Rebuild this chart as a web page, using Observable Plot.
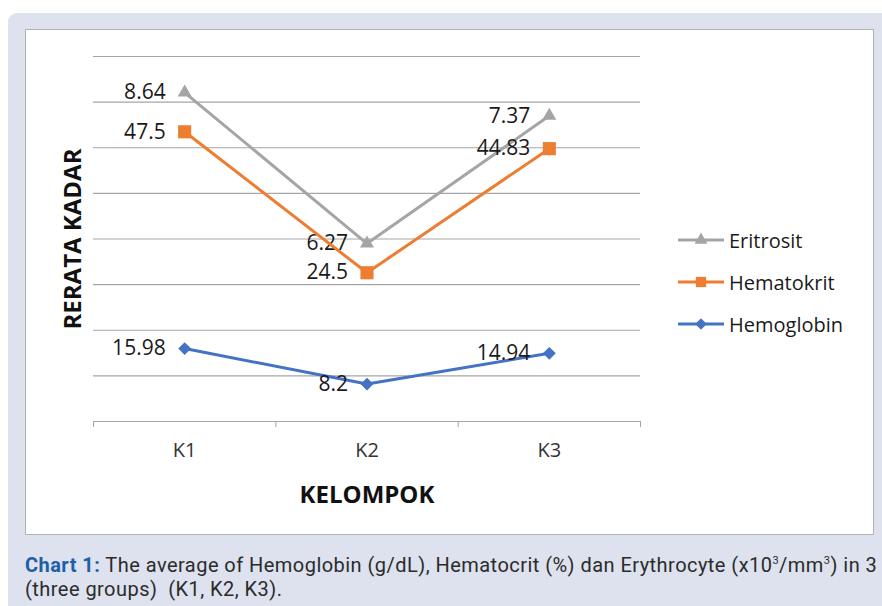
<!DOCTYPE html>
<html>
<head>
<meta charset="utf-8">
<script src="https://cdn.jsdelivr.net/npm/d3@7"></script>
<script src="https://cdn.jsdelivr.net/npm/@observablehq/plot@0.6"></script>
<style>
  html, body { margin: 0; padding: 0; background: #ffffff; }
  #page { position: relative; width: 882px; height: 606px; overflow: hidden; }
  #bg { position: absolute; left: 8px; top: 13px; width: 890px; height: 610px; background: #dde2ee; border-radius: 9px; }
  #panel { position: absolute; left: 25px; top: 29px; width: 847px; height: 504px; background: #fff; border: 1px solid #b3b3b3; }
  #panel > svg { position: absolute; left: 0; top: 0; }
  #legend { position: absolute; left: 651px; top: 198px; font-family: "Open Sans", sans-serif; font-size: 20px; color: #1a1a1a; }
  #legend .lrow { position: absolute; left: 0; white-space: nowrap; display: flex; align-items: center; height: 24px; }
  #legend .lrow svg { position: static; margin-right: 4px; display: block; }
  #caption { position: absolute; left: 25px; top: 549px; font-family: "Roboto", sans-serif; font-size: 20px; letter-spacing: 0.46px; line-height: 24px; color: #2b2b2b; white-space: nowrap; }
  #caption b { color: #1f5fa6; }
</style>
</head>
<body>
<div id="page">
  <div id="bg"></div>
  <div id="panel"><div id="legend"></div></div>
  <div id="caption"><b>Chart 1:</b> The average of Hemoglobin (g/dL), Hematocrit (%) dan Erythrocyte (x10<sup style="font-size:11px">3</sup>/mm<sup style="font-size:11px">3</sup>) in 3<br>(three groups)&nbsp; (K1, K2, K3).</div>
</div>
<script>
// ---- data (plotted positions, in gridline units of 10) ----
const categories = ["K1", "K2", "K3"];
const seriesNames = ["Eritrosit", "Hematokrit", "Hemoglobin"];
const eritrositValues = [72.1, 39.0, 67.0];
const eritrositLabels = ["8.64", "6.27", "7.37"];
const hematokritValues = [63.5, 32.6, 59.8];
const hematokritLabels = ["47.5", "24.5", "44.83"];
const hemoglobinValues = [15.98, 8.2, 14.94];
const hemoglobinLabels = ["15.98", "8.2", "14.94"];
const gridTicks = [0, 10, 20, 30, 40, 50, 60, 70, 80];

const colors = {Eritrosit: "#a5a5a5", Hematokrit: "#ed7d31", Hemoglobin: "#4472c4"};
const symbols = {Eritrosit: "triangle", Hematokrit: "square", Hemoglobin: "diamond2"};
const radii = {Eritrosit: 5.2, Hematokrit: 7.4, Hemoglobin: 5.8};

const valueSets = [eritrositValues, hematokritValues, hemoglobinValues];
const labelSets = [eritrositLabels, hematokritLabels, hemoglobinLabels];
const rows = [];
seriesNames.forEach((s, si) => {
  categories.forEach((c, ci) => {
    rows.push({series: s, idx: ci + 0.5, cat: c, value: valueSets[si][ci], label: labelSets[si][ci]});
  });
});

const font = "Open Sans, sans-serif";
const marks = [
  Plot.ruleY(gridTicks, {stroke: "#a6a6a6", strokeWidth: 1.2, strokeOpacity: 1}),
  Plot.axisX({ticks: [0, 1, 2, 3], tickFormat: () => "", tickSize: 6, stroke: "#a6a6a6", label: null}),
  Plot.axisX({ticks: categories.map((c, i) => i + 0.5), tickFormat: (d) => categories[Math.floor(d)], tickSize: 0, tickPadding: 21, fontSize: 20, fill: "#333", label: null, fontFamily: font}),
  Plot.text(["KELOMPOK"], {frameAnchor: "bottom", textAnchor: "middle", dy: 81, fontSize: 24, fontWeight: "bold", fill: "#111", fontFamily: font}),
  Plot.text(["RERATA KADAR"], {frameAnchor: "left", textAnchor: "middle", rotate: -90, dx: -20, fontSize: 24, fontWeight: "bold", fill: "#111", fontFamily: font})
];
for (const s of seriesNames) {
  const d = rows.filter(r => r.series === s);
  marks.push(Plot.line(d, {x: "idx", y: "value", stroke: colors[s], strokeWidth: 3}));
  marks.push(Plot.dot(d, {x: "idx", y: "value", symbol: symbols[s], r: radii[s], fill: colors[s], stroke: "none"}));
  marks.push(Plot.text(d, {x: "idx", y: "value", text: "label", textAnchor: "end", dx: -19, fontSize: 21, fill: "#1a1a1a", fontFamily: font}));
}

const chart = Plot.plot({
  width: 847,
  height: 504,
  marginLeft: 67,
  marginRight: 233,
  marginTop: 26,
  marginBottom: 113,
  style: {background: "transparent", fontFamily: font},
  x: {domain: [0, 3], axis: null},
  y: {domain: [0, 80], axis: null},
  marks
});
document.getElementById("panel").prepend(chart);

// legend
const legend = document.getElementById("legend");
const legendSymbol = {Eritrosit: "Triangle", Hematokrit: "Square", Hemoglobin: "Diamond2"};
const legendR = {Eritrosit: 4.8, Hematokrit: 5.8, Hemoglobin: 5.2};
seriesNames.forEach((s, i) => {
  const row = document.createElement("div");
  row.className = "lrow";
  row.style.top = (i * 42) + "px";
  const sym = d3.symbol(d3["symbol" + legendSymbol[s]], Math.PI * legendR[s] ** 2)();
  row.innerHTML = `<svg width="48" height="24"><line x1="1" x2="47" y1="12" y2="12" stroke="${colors[s]}" stroke-width="3"/><path d="${sym}" transform="translate(24,12)" fill="${colors[s]}"/></svg><span>${s}</span>`;
  legend.appendChild(row);
});
</script>
</body>
</html>
